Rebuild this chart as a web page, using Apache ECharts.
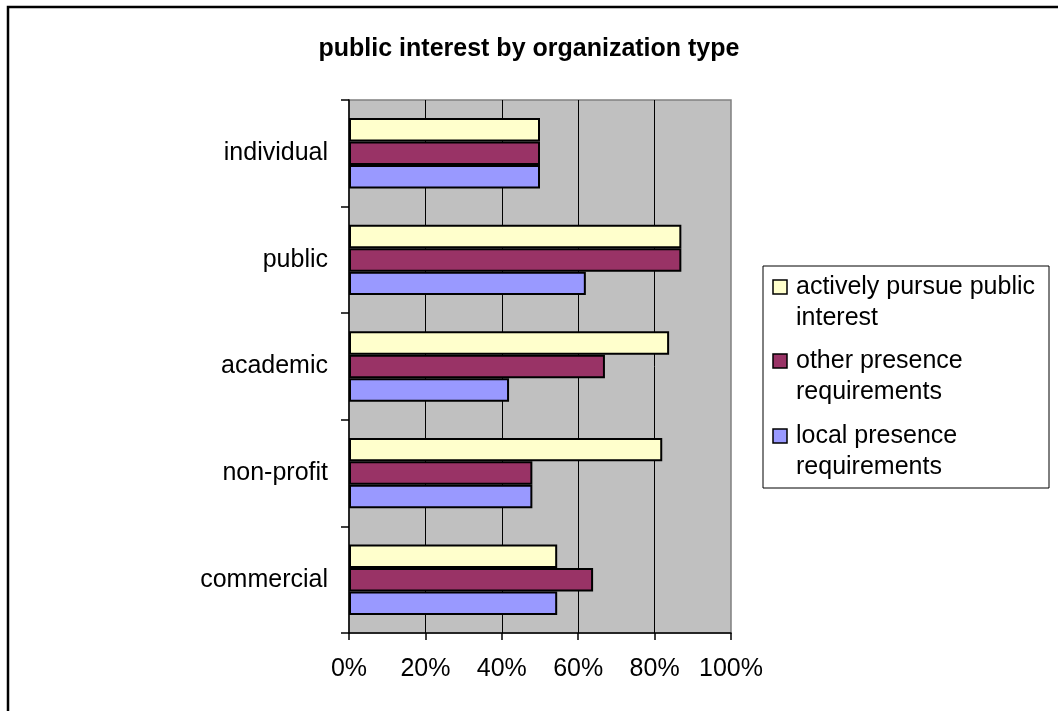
<!DOCTYPE html>
<html>
<head>
<meta charset="utf-8">
<script src="https://cdn.jsdelivr.net/npm/echarts@6/dist/echarts.min.js"></script>
<style>
html,body{margin:0;padding:0;background:#fff;}
#chart{width:1058px;height:711px;}
</style>
</head>
<body>
<div id="chart"></div>
<script>
const titleText = 'public interest by organization type';
const categories = ['commercial', 'non-profit', 'academic', 'public', 'individual'];
const seriesNames = ['actively pursue public interest', 'other presence requirements', 'local presence requirements'];
const legendLabels = ['actively pursue public\ninterest', 'other presence\nrequirements', 'local presence\nrequirements'];
const seriesColors = ['#FFFFCC', '#993366', '#9999FF'];
const activelyPursue = [54.5, 82, 83.8, 87, 50];
const otherPresence = [63.9, 48, 67, 87, 50];
const localPresence = [54.5, 48, 41.9, 62, 50];
const xTicks = [0, 20, 40, 60, 80, 100];
const seriesData = [activelyPursue, otherPresence, localPresence];

const FONT = '"Liberation Sans", Arial, sans-serif';
const chart = echarts.init(document.getElementById('chart'));

const legendX = 763, legendY = 266, legendW = 286, legendH = 222;
const itemCenters = [287, 361, 436];
const legendChildren = [{
  type: 'rect',
  shape: {x: legendX, y: legendY, width: legendW, height: legendH},
  style: {fill: '#fff', stroke: '#000', lineWidth: 1}
}];
legendLabels.forEach((lab, i) => {
  legendChildren.push({
    type: 'rect',
    shape: {x: 773, y: itemCenters[i] - 7, width: 14, height: 14},
    style: {fill: seriesColors[i], stroke: '#000', lineWidth: 1.5}
  });
  legendChildren.push({
    type: 'text',
    x: 796, y: itemCenters[i] - 15.5,
    style: {text: lab, font: '25px ' + FONT, fill: '#000', lineHeight: 31, verticalAlign: 'top', align: 'left'}
  });
});

const option = {
  animation: false,
  backgroundColor: '#fff',
  title: {
    text: titleText,
    left: 'center',
    top: 32,
    textStyle: {fontFamily: FONT, fontSize: 25, fontWeight: 'bold', color: '#000'}
  },
  grid: {
    left: 349, right: 327, top: 100, bottom: 78,
    show: true, backgroundColor: '#C0C0C0', borderColor: '#808080', borderWidth: 1.5,
    containLabel: false
  },
  xAxis: {
    type: 'value',
    min: 0, max: 100, interval: 20,
    axisLine: {show: true, lineStyle: {color: '#000', width: 1.5}},
    axisTick: {show: true, length: 7, lineStyle: {color: '#000', width: 1.5}},
    axisLabel: {
      formatter: v => xTicks.includes(v) ? v + '%' : '',
      fontFamily: FONT, fontSize: 25, color: '#000', margin: 24
    },
    splitLine: {show: true, showMinLine: false, showMaxLine: false, lineStyle: {color: '#000', width: 1}}
  },
  yAxis: {
    type: 'category',
    data: categories,
    axisLine: {show: true, lineStyle: {color: '#000', width: 1.5}},
    axisTick: {show: true, length: 8, lineStyle: {color: '#000', width: 1.5}},
    axisLabel: {fontFamily: FONT, fontSize: 25, color: '#000', margin: 21},
    splitLine: {show: false}
  },
  series: seriesNames.map((name, i) => ({
    name: name,
    type: 'bar',
    data: seriesData[i],
    barGap: '0%',
    barCategoryGap: '34%',
    itemStyle: {color: seriesColors[i], borderColor: '#000', borderWidth: 2}
  })),
  graphic: [
    {
      type: 'rect',
      shape: {x: 8, y: 7, width: 1200, height: 900},
      style: {fill: 'none', stroke: '#000', lineWidth: 2.5},
      silent: true
    },
    {type: 'group', children: legendChildren}
  ]
};
chart.setOption(option);
</script>
</body>
</html>
